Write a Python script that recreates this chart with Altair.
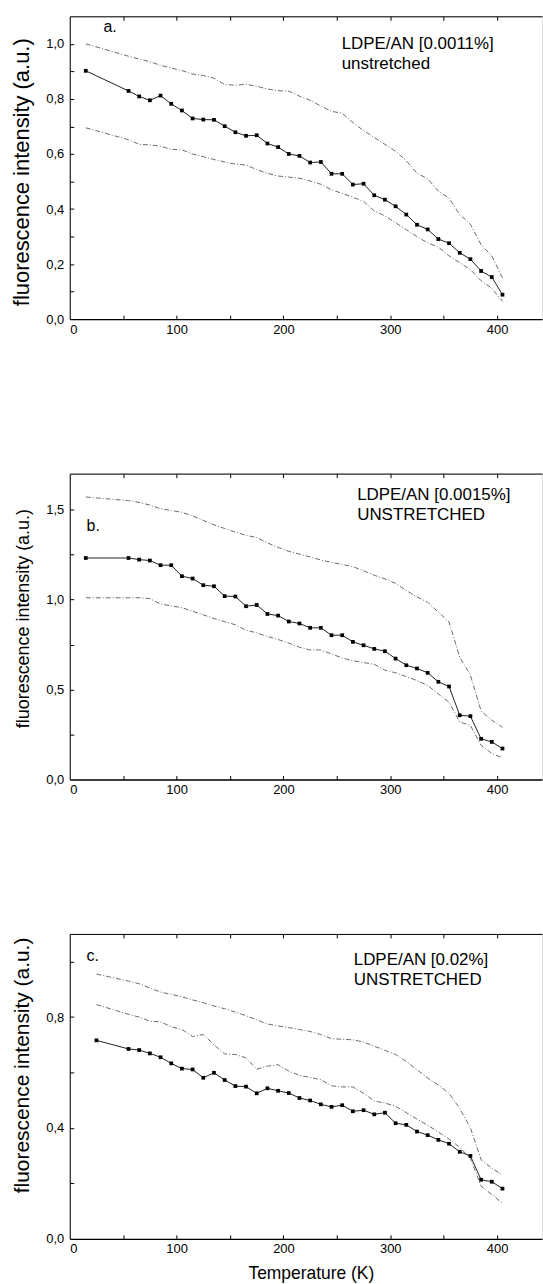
import altair as alt
import pandas as pd

FONT = "Liberation Sans"

# ---------------- data ----------------
T_ab = [15, 55, 65, 75, 85, 95, 105, 115, 125, 135, 145, 155, 165, 175, 185, 195, 205, 215,
        225, 235, 245, 255, 265, 275, 285, 295, 305, 315, 325, 335, 345, 355, 365, 375, 385, 395, 405]
T_c = [25, 55, 65, 75, 85, 95, 105, 115, 125, 135, 145, 155, 165, 175, 185, 195, 205, 215,
       225, 235, 245, 255, 265, 275, 285, 295, 305, 315, 325, 335, 345, 355, 365, 375, 385, 395, 405]

a_main = [0.902, 0.829, 0.809, 0.795, 0.812, 0.782, 0.758, 0.729, 0.725, 0.724, 0.701, 0.679,
          0.666, 0.668, 0.638, 0.625, 0.600, 0.593, 0.569, 0.571, 0.528, 0.528, 0.489, 0.492,
          0.450, 0.434, 0.410, 0.380, 0.343, 0.326, 0.291, 0.276, 0.241, 0.218, 0.175, 0.153, 0.089]
a_upper = [1.00, 0.955, 0.945, 0.935, 0.922, 0.912, 0.903, 0.89, 0.885, 0.875, 0.852, 0.85,
           0.853, 0.846, 0.836, 0.83, 0.828, 0.81, 0.795, 0.774, 0.755, 0.748, 0.714, 0.685,
           0.66, 0.635, 0.61, 0.575, 0.53, 0.51, 0.465, 0.44, 0.38, 0.345, 0.27, 0.23, 0.15]
a_lower = [0.695, 0.652, 0.635, 0.633, 0.628, 0.617, 0.615, 0.60, 0.59, 0.58, 0.571, 0.563,
           0.56, 0.543, 0.53, 0.52, 0.516, 0.512, 0.502, 0.49, 0.47, 0.457, 0.443, 0.428,
           0.393, 0.375, 0.35, 0.325, 0.30, 0.277, 0.262, 0.23, 0.205, 0.18, 0.14, 0.112, 0.065]

b_main = [1.231, 1.231, 1.222, 1.217, 1.191, 1.191, 1.13, 1.117, 1.080, 1.074, 1.019, 1.017,
          0.963, 0.970, 0.920, 0.911, 0.878, 0.867, 0.843, 0.843, 0.802, 0.802, 0.765, 0.746,
          0.726, 0.713, 0.672, 0.635, 0.617, 0.593, 0.543, 0.517, 0.357, 0.352, 0.226, 0.209, 0.172]
b_upper = [1.57, 1.55, 1.54, 1.525, 1.505, 1.495, 1.485, 1.465, 1.44, 1.415, 1.395, 1.375,
           1.357, 1.345, 1.315, 1.29, 1.268, 1.253, 1.237, 1.22, 1.207, 1.195, 1.183, 1.16,
           1.135, 1.115, 1.09, 1.05, 1.015, 0.985, 0.93, 0.875, 0.68, 0.58, 0.38, 0.33, 0.29]
b_lower = [1.01, 1.01, 1.01, 1.005, 0.975, 0.965, 0.955, 0.935, 0.915, 0.895, 0.877, 0.86,
           0.83, 0.815, 0.795, 0.778, 0.758, 0.735, 0.72, 0.72, 0.698, 0.675, 0.66, 0.65,
           0.64, 0.608, 0.593, 0.572, 0.55, 0.523, 0.475, 0.43, 0.32, 0.30, 0.19, 0.145, 0.12]

c_main = [0.716, 0.685, 0.681, 0.669, 0.655, 0.633, 0.614, 0.611, 0.581, 0.599, 0.573, 0.551,
          0.549, 0.525, 0.543, 0.534, 0.526, 0.508, 0.499, 0.485, 0.476, 0.482, 0.460, 0.464,
          0.449, 0.455, 0.417, 0.411, 0.387, 0.374, 0.357, 0.343, 0.314, 0.299, 0.213, 0.206, 0.181]
c_upper = [0.955, 0.93, 0.92, 0.905, 0.89, 0.882, 0.873, 0.862, 0.852, 0.84, 0.83, 0.818,
           0.805, 0.79, 0.775, 0.768, 0.762, 0.755, 0.748, 0.737, 0.722, 0.72, 0.718, 0.71,
           0.695, 0.68, 0.665, 0.64, 0.61, 0.58, 0.555, 0.525, 0.47, 0.40, 0.285, 0.255, 0.23]
c_mid = [0.845, 0.81, 0.80, 0.785, 0.783, 0.765, 0.755, 0.73, 0.737, 0.70, 0.667, 0.665,
         0.653, 0.612, 0.623, 0.628, 0.605, 0.59, 0.582, 0.574, 0.552, 0.548, 0.548, 0.525,
         0.497, 0.49, 0.478, 0.455, 0.432, 0.41, 0.385, 0.36, 0.33, 0.29, 0.19, 0.16, 0.128]

x_label_values = [0, 100, 200, 300, 400]
x_tick_values = [50, 100, 150, 200, 250, 300, 350, 400]

a_ylabels = [0.0, 0.2, 0.4, 0.6, 0.8, 1.0]
a_yticks = [0.1, 0.2, 0.3, 0.4, 0.5, 0.6, 0.7, 0.8, 0.9, 1.0]
b_ylabels = [0.0, 0.5, 1.0, 1.5]
b_yticks = [0.25, 0.5, 0.75, 1.0, 1.25, 1.5]
c_ylabels = [0.0, 0.4, 0.8]
c_yticks = [0.2, 0.4, 0.6, 0.8, 1.0]

a_letter = "a."
b_letter = "b."
c_letter = "c."
a_label = ["LDPE/AN [0.0011%]", "unstretched"]
b_label = ["LDPE/AN [0.0015%]", "UNSTRETCHED"]
c_label = ["LDPE/AN [0.02%]", "UNSTRETCHED"]

Y_TITLE = "fluorescence intensity (a.u.)"
X_TITLE = "Temperature (K)"

# ---------------- layout ----------------
W = 474
X_DOMAIN = [0, 442]
LABEL_EXPR = "replace(format(datum.value, '.1f'), '.', ',')"


def panel(T, main, others, ymax, h, ylabels, yticks, ytitle_size, ytitle_y,
          letter, letter_pos, label, label_pos, xtitle=False):
    rows = []
    for name, vals in others.items():
        for t, v in zip(T, vals):
            rows.append({"T": t, "v": v, "s": name})
    df_o = pd.DataFrame(rows)
    df_m = pd.DataFrame({"T": T, "v": main})

    xs = alt.Scale(domain=X_DOMAIN, nice=False, zero=False)
    ys = alt.Scale(domain=[0, ymax], nice=False)

    x_main_axis_kw = dict(
        orient="bottom", values=x_label_values, format="d",
        labelFont=FONT, labelFontSize=13, labelColor="black", labelPadding=4,
        ticks=False, domain=True, domainColor="black", domainWidth=1.3, grid=False,
    )
    if xtitle:
        x_main_axis_kw.update(
            title=X_TITLE, titleFont=FONT, titleFontSize=17.5, titleFontWeight="normal",
            titleColor="black", titleBaseline="alphabetic", titleY=40, titleX=242,
            titleAlign="center",
        )
        x_main = alt.X("T:Q", scale=xs, axis=alt.Axis(**x_main_axis_kw))
    else:
        x_main = alt.X("T:Q", scale=xs, title=None, axis=alt.Axis(**x_main_axis_kw))

    y_main = alt.Y(
        "v:Q", scale=ys,
        axis=alt.Axis(
            orient="left", values=ylabels, labelExpr=LABEL_EXPR,
            labelFont=FONT, labelFontSize=13, labelColor="black", labelPadding=6,
            ticks=False, domain=True, domainColor="black", domainWidth=1, grid=False,
            title=Y_TITLE, titleFont=FONT, titleFontSize=ytitle_size, titleFontWeight="normal",
            titleColor="black", titleAngle=270, titleBaseline="alphabetic", titleAlign="center",
            titleX=-41.5, titleY=ytitle_y,
        ),
    )

    # dashed companion curves
    l_other = alt.Chart(df_o).mark_line(
        color="#6a6a6a", strokeWidth=1, strokeDash=[5, 2, 1, 2]
    ).encode(x=x_main, y=y_main, detail="s:N")

    # main line, carrying top frame line and inward left ticks
    l_main = alt.Chart(df_m).mark_line(color="#222222", strokeWidth=1).encode(
        x=alt.X("T:Q", scale=xs, title=None, axis=alt.Axis(
            orient="top", labels=False, ticks=False, domain=True,
            domainColor="black", domainWidth=1, grid=False)),
        y=alt.Y("v:Q", scale=ys, title=None, axis=alt.Axis(
            orient="left", offset=-4, tickSize=4, ticks=True, tickColor="black",
            labels=False, domain=False, grid=False, values=yticks)),
    )

    # markers, carrying inward top ticks
    l_pts = alt.Chart(df_m).mark_point(
        shape="square", filled=True, size=14, color="black", opacity=1
    ).encode(
        x=alt.X("T:Q", scale=xs, title=None, axis=alt.Axis(
            orient="top", offset=-4, tickSize=4, ticks=True, tickColor="black",
            labels=False, domain=False, grid=False, values=x_tick_values)),
        y=alt.Y("v:Q", scale=ys, axis=None),
    )

    # annotation text, carrying inward bottom ticks
    df_lab = pd.DataFrame({
        "T": [label_pos[0], label_pos[0]],
        "v": [label_pos[1], label_pos[2]],
        "txt": label,
    })
    l_lab = alt.Chart(df_lab).mark_text(
        font=FONT, fontSize=17, align="left", baseline="alphabetic", color="black"
    ).encode(
        x=alt.X("T:Q", scale=xs, title=None, axis=alt.Axis(
            orient="bottom", offset=-4, tickSize=4, ticks=True, tickColor="black",
            labels=False, domain=False, grid=False, values=x_tick_values)),
        y=alt.Y("v:Q", scale=ys, axis=None),
        text="txt:N",
    )

    df_let = pd.DataFrame({"T": [letter_pos[0]], "v": [letter_pos[1]], "txt": [letter]})
    l_let = alt.Chart(df_let).mark_text(
        font=FONT, fontSize=16, align="left", baseline="alphabetic", color="black"
    ).encode(
        x=alt.X("T:Q", scale=xs, axis=None),
        y=alt.Y("v:Q", scale=ys, axis=None),
        text="txt:N",
    )

    return alt.layer(l_other, l_main, l_pts, l_lab, l_let).resolve_axis(
        x="independent", y="independent"
    ).properties(width=W, height=h)


pa = panel(T_ab, a_main, {"u": a_upper, "l": a_lower}, 1.1, 304, a_ylabels, a_yticks,
           22, 156, a_letter, (31.6, 1.043), a_label, (254.5, 0.983, 0.907))
pb = panel(T_ab, b_main, {"u": b_upper, "l": b_lower}, 1.7, 307, b_ylabels, b_yticks,
           18, 145, b_letter, (15.7, 1.379), b_label, (269, 1.556, 1.444))
pc = panel(T_c, c_main, {"u": c_upper, "m": c_mid}, 1.1, 306, c_ylabels, c_yticks,
           21, 131.5, c_letter, (15.7, 1.001), c_label, (265.8, 0.989, 0.917), xtitle=True)

chart = alt.vconcat(pa, pb, pc, spacing=155, bounds="flush").properties(
    padding={"left": 9, "top": 13, "right": 0, "bottom": 0}
).configure_view(stroke=None).configure(background="white")

chart.save("out.html", embed_options={"renderer": "svg", "actions": False})
